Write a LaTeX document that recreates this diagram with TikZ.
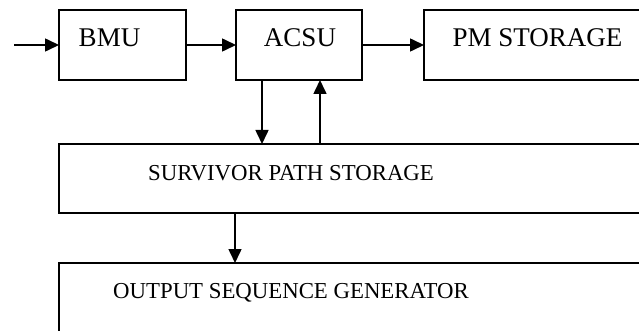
\documentclass[tikz,border=0pt]{standalone}
\usepackage{fontspec}
\setmainfont{Liberation Serif}
\usepackage{tikz}
\usetikzlibrary{arrows.meta,positioning}
\tikzset{
  blockbox/.style={
    rectangle, draw=black, line width=1.8pt, fill=white,
    minimum height=70pt, inner sep=0pt, outer sep=0pt
  },
  toptext/.style={anchor=base, inner sep=0pt, font=\fontsize{27}{30}\selectfont},
  lowtext/.style={anchor=base, inner sep=0pt, font=\fontsize{22.8}{26}\selectfont},
  flowarrow/.style={-{Triangle[length=14pt,width=13pt]}, line width=1.6pt, draw=black},
}

\begin{document}
\begin{tikzpicture}[x=1pt, y=-1pt]
  \useasboundingbox (0,0) rectangle (639,331);
  \clip (0,0) rectangle (639,331);
  % blocks
  \node (bmu) [blockbox, minimum width=127pt, anchor=north west] at (59,10) {};
  \node (acsu) [blockbox, minimum width=126pt, right=50pt of bmu] {};
  \node (pm) [blockbox, minimum width=236pt, right=62pt of acsu] {};
  \node (sps) [blockbox, minimum width=601pt, minimum height=69pt, below right=64pt and 0pt of bmu.south west] {};
  \node (osg) [blockbox, minimum width=601pt, minimum height=90pt, below right=50pt and 0pt of sps.south west] {};
  % labels
  \node (bmutext) [toptext] at (109.5,47) {BMU};
  \node (acsutext) [toptext] at (300,47) {ACSU};
  \node (pmtext) [toptext] at (537.5,47) {PM STORAGE};
  \node (spstext) [lowtext] at (291,180) {SURVIVOR PATH STORAGE};
  \node (osgtext) [lowtext] at (291,298) {OUTPUT SEQUENCE GENERATOR};
  % connections
  \coordinate (in) at (14,45);
  \draw[flowarrow] (in) -- (bmu); \draw[flowarrow] (bmu) -- (acsu); \draw[flowarrow] (acsu) -- (pm);
  \draw[flowarrow] ([xshift=-37pt]acsu.south) -- ([xshift=-37pt]acsu.south |- sps.north);
  \draw[flowarrow] ([xshift=21pt]acsu.south |- sps.north) -- ([xshift=21pt]acsu.south);
  \draw[flowarrow] ([xshift=176pt]sps.south west) -- ([xshift=176pt]sps.south west |- osg.north);
\end{tikzpicture}
\end{document}
